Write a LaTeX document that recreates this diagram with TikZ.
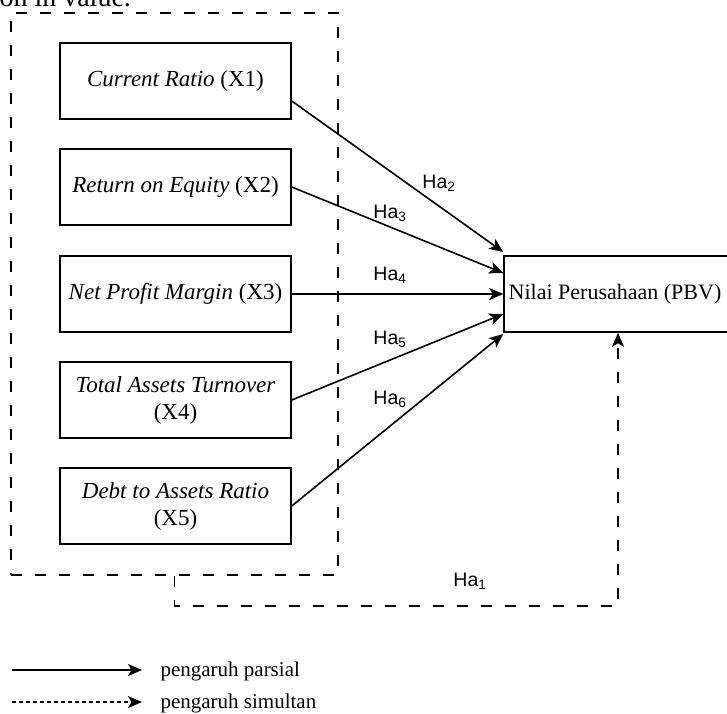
\documentclass[tikz,border=0pt]{standalone}
\usepackage{fontspec}
\setmainfont{Liberation Serif}
\newfontfamily\hafont{Liberation Sans}
\usepackage{tikz}
\usetikzlibrary{arrows.meta}

\begin{document}
\begin{tikzpicture}[x=1pt, y=-1pt,
  varbox/.style={draw, line width=1.5pt, minimum width=231pt, minimum height=76pt, align=center, font=\fontsize{23}{27}\selectfont},
  grpbox/.style={draw, line width=1.5pt, dash pattern=on 11pt off 13pt, minimum width=327pt, minimum height=562pt},
  parsial/.style={line width=1.6pt, -{Stealth[length=14pt, width=12pt, inset=3.5pt]}},
  simultan/.style={line width=1.6pt, dash pattern=on 11pt off 13pt, -{Stealth[length=14pt, width=12pt, inset=3.5pt]}},
  halabel/.style={font=\hafont\fontsize{19.5}{22}\selectfont},
  legtext/.style={anchor=base west, font=\fontsize{21}{24}\selectfont}]
\clip (0,0) rectangle (727,713);

\node[anchor=base west, font=\fontsize{28}{30}\selectfont] (toptext) at (-4,6) {on in value.};

\node[grpbox] (grp) at (174.5,294) {};
\node[varbox] (x1) at (175.5,81) {\textit{Current Ratio} (X1)};
\node[varbox] (x2) at (175.5,187) {\textit{Return on Equity} (X2)};
\node[varbox] (x3) at (175.5,294) {\textit{Net Profit Margin} (X3)};
\node[varbox] (x4) at (175.5,400) {\textit{Total Assets Turnover}\\(X4)};
\node[varbox] (x5) at (175.5,506) {\textit{Debt to Assets Ratio}\\(X5)};
\node[varbox, minimum width=228pt, font=\fontsize{22}{26}\selectfont] (pbv) at (618,294) {\hspace*{-6pt}Nilai Perusahaan (PBV)};

\draw[parsial] ([yshift=-20pt]x1.east) -- ([yshift=42pt]pbv.west);
\draw[parsial] (x2.east) -- ([yshift=21pt]pbv.west);
\draw[parsial] (x3.east) -- (pbv.west);
\draw[parsial] (x4.east) -- ([yshift=-20pt]pbv.west);
\draw[parsial] (x5.east) -- ([yshift=-40pt]pbv.west);
\draw[simultan] (grp.south) -- ++(0,30) -| (pbv.south);

\node[halabel] (ha2) at (439,183) {Ha\textsubscript{2}};
\node[halabel] (ha3) at (390,213) {Ha\textsubscript{3}};
\node[halabel] (ha4) at (390,275) {Ha\textsubscript{4}};
\node[halabel] (ha5) at (390,339) {Ha\textsubscript{5}};
\node[halabel] (ha6) at (390,399) {Ha\textsubscript{6}};
\node[halabel] (ha1) at (470,581) {Ha\textsubscript{1}};

\coordinate (lp1) at (12,670);
\coordinate (lp2) at (142,670);
\draw[parsial] (lp1) -- (lp2);
\node[legtext] (lgp) at (157,676) {pengaruh parsial};
\coordinate (ls1) at (12,702);
\coordinate (ls2) at (142,702);
\draw[simultan, dash pattern=on 4pt off 3pt] (ls1) -- (ls2);
\node[legtext] (lgs) at (157,708) {pengaruh simultan};

\end{tikzpicture}
\end{document}
